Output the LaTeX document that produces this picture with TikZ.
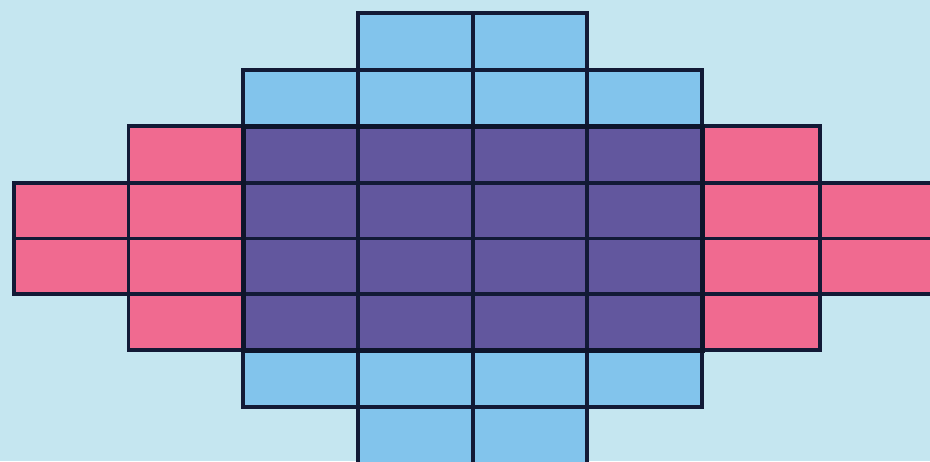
\documentclass[tikz,border=0pt]{standalone}
\definecolor{bg}{HTML}{C5E6F0}
\definecolor{cblue}{HTML}{82C4EC}
\definecolor{cpink}{HTML}{F06A90}
\definecolor{cpurp}{HTML}{62579E}
\definecolor{cline}{HTML}{121A36}
\tikzset{
  cellline/.style={draw=cline, line width=3.3pt, line join=miter},
  bluecell/.style={cellline, fill=cblue},
  pinkcell/.style={cellline, fill=cpink},
  purpcell/.style={cellline, fill=cpurp},
}
\begin{document}
\begin{tikzpicture}[x=1pt,y=-1pt]
\useasboundingbox (0,0) rectangle (930,461);
\clip (0,0) rectangle (930,461);
\fill[bg] (0,0) rectangle (930,461);
% column edges and row edges
\def\cx{{14,128.5,243,358,473,587,702,820,935}}
\def\ry{{13,70,126,183,238.5,294,350,407,465}}
% blue cells
\foreach \r/\c in {0/3,0/4,1/2,1/3,1/4,1/5,6/2,6/3,6/4,6/5,7/3,7/4}{
  \pgfmathsetmacro{\xa}{\cx[\c]}\pgfmathsetmacro{\xb}{\cx[\c+1]}
  \pgfmathsetmacro{\ya}{\ry[\r]}\pgfmathsetmacro{\yb}{\ry[\r+1]}
  \draw[bluecell] (\xa,\ya) rectangle (\xb,\yb);
}
% pink cells
\foreach \r/\c in {2/1,3/0,3/1,4/0,4/1,5/1,2/6,3/6,3/7,4/6,4/7,5/6}{
  \pgfmathsetmacro{\xa}{\cx[\c]}\pgfmathsetmacro{\xb}{\cx[\c+1]}
  \pgfmathsetmacro{\ya}{\ry[\r]}\pgfmathsetmacro{\yb}{\ry[\r+1]}
  \draw[pinkcell] (\xa,\ya) rectangle (\xb,\yb);
}
% purple cells
\foreach \r in {2,3,4,5}{
  \foreach \c in {2,3,4,5}{
    \pgfmathsetmacro{\xa}{\cx[\c]}\pgfmathsetmacro{\xb}{\cx[\c+1]}
    \pgfmathsetmacro{\ya}{\ry[\r]}\pgfmathsetmacro{\yb}{\ry[\r+1]}
    \draw[purpcell] (\xa,\ya) rectangle (\xb,\yb);
  }
}
% thick border around the purple block
\draw[draw=cline!80!black, line width=5pt] (243,126) rectangle (702,350);
\end{tikzpicture}
\end{document}
